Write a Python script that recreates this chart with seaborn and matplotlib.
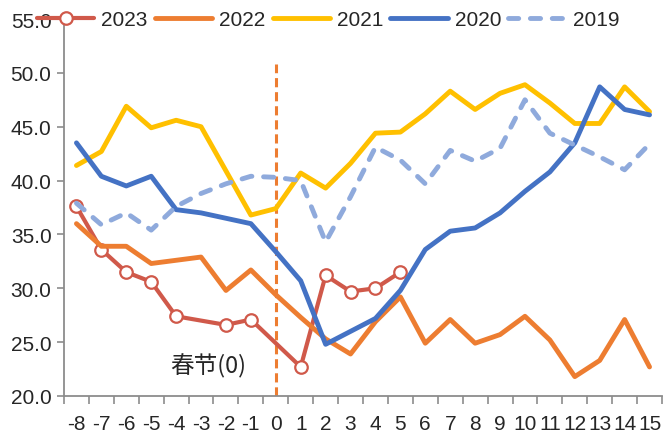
import numpy as np
import pandas as pd
import matplotlib
matplotlib.use("Agg")
import matplotlib.pyplot as plt
import seaborn as sns

days = list(range(-8, 16))
nan = np.nan
v2023 = [37.6, 33.6, 31.5, 30.6, 27.4, nan, 26.6, 27.1, nan, 22.7, 31.2, 29.7, 30.0, 31.5,
         nan, nan, nan, nan, nan, nan, nan, nan, nan, nan]
v2022 = [36.0, 33.9, 33.9, 32.3, 32.6, 32.9, 29.8, 31.7, 29.4, 27.3, 25.3, 23.9, 26.9, 29.2,
         24.9, 27.1, 24.9, 25.7, 27.4, 25.2, 21.8, 23.3, 27.1, 22.7]
v2021 = [41.4, 42.7, 46.9, 44.9, 45.6, 45.0, 40.9, 36.8, 37.4, 40.7, 39.3, 41.6, 44.4, 44.5,
         46.2, 48.3, 46.6, 48.1, 48.9, 47.2, 45.3, 45.3, 48.7, 46.4]
v2020 = [43.5, 40.4, 39.5, 40.4, 37.3, 37.0, 36.5, 36.0, 33.4, 30.7, 24.8, 26.0, 27.2, 29.8,
         33.6, 35.3, 35.6, 37.0, 39.0, 40.8, 43.5, 48.7, 46.6, 46.1]
v2019 = [37.9, 35.9, 37.0, 35.4, 37.6, 38.8, 39.7, 40.4, 40.3, 40.0, 34.3, 38.5, 43.1, 41.9,
         39.7, 42.8, 41.8, 43.0, 47.5, 44.4, 43.3, 42.2, 41.0, 43.4]
years = ["2023", "2022", "2021", "2020", "2019"]
series = [v2023, v2022, v2021, v2020, v2019]
colors = ["#D0594A", "#ED7D31", "#FFC000", "#4472C4", "#8FAADC"]
y_ticks = [20, 25, 30, 35, 40, 45, 50, 55]
festival_label = "春节(0)"

sns.set_theme(style="white")
plt.rcParams["font.family"] = ["Liberation Sans", "DejaVu Sans"]
plt.rcParams["lines.solid_capstyle"] = "round"

fig = plt.figure(figsize=(6.63, 4.39), dpi=100)
ax = fig.add_axes([64 / 663, 1 - 397 / 439, (662 - 64) / 663, (397 - 20) / 439])

for z, (yr, vals, col) in enumerate(zip(years, series, colors)):
    df = pd.DataFrame({"day": days, "value": vals}).dropna()
    kw = dict(color=col, linewidth=3.5, zorder=2 + z, estimator=None, errorbar=None,
              label=yr, legend=False)
    if yr == "2023":
        kw.update(linewidth=3.0, marker="o", markersize=9, markerfacecolor="white",
                  markeredgecolor=col, markeredgewidth=1.6)
    sns.lineplot(data=df, x="day", y="value", ax=ax, **kw)
    if yr == "2019":
        ln = ax.get_lines()[-1]
        ln.set_linestyle((0, (2.1, 2.4)))
        ln.set_dash_capstyle("round")

ax.axvline(0, ymin=0, ymax=(50.8 - 20) / 35, color="#ED7D31", linewidth=2.2,
           linestyle=(0, (3, 1.6)), zorder=1)

ax.text(-2.7, 22.9, festival_label, family=["Noto Sans CJK SC", "DejaVu Sans"],
        fontsize=17, ha="center", va="center", color="#262626")

ax.set_xlim(-8.5, 15.5)
ax.set_ylim(20, 55)
ax.set_xticks(days)
ax.set_xticklabels([str(d) for d in days])
ax.set_xticks(np.arange(-8.5, 15.6, 1), minor=True)
ax.set_yticks(y_ticks)
ax.set_yticklabels([f"{t:.1f}" for t in y_ticks])
ax.set_xlabel("")
ax.set_ylabel("")
ax.tick_params(axis="x", which="major", length=0, pad=13, labelsize=15, labelcolor="#262626")
ax.tick_params(axis="x", which="minor", length=6, width=1.2, color="#8c8c8c", direction="out", bottom=True)
ax.tick_params(axis="y", which="major", length=5, width=1.2, color="#8c8c8c", direction="out",
               pad=4, labelsize=15, labelcolor="#262626", left=True)
for s in ["top", "right"]:
    ax.spines[s].set_visible(False)
for s in ["left", "bottom"]:
    ax.spines[s].set_color("#8c8c8c")
    ax.spines[s].set_linewidth(1.3)

handles = ax.get_lines()[:5]
fig.legend(handles=handles, labels=years, loc="center left",
           bbox_to_anchor=(37 / 663, 1 - 21 / 439), ncol=5, frameon=False, fontsize=15,
           borderpad=0, borderaxespad=0, handlelength=2.75, handletextpad=0.34,
           columnspacing=0.34, labelcolor="#262626")

fig.savefig("out.png", dpi=100)
